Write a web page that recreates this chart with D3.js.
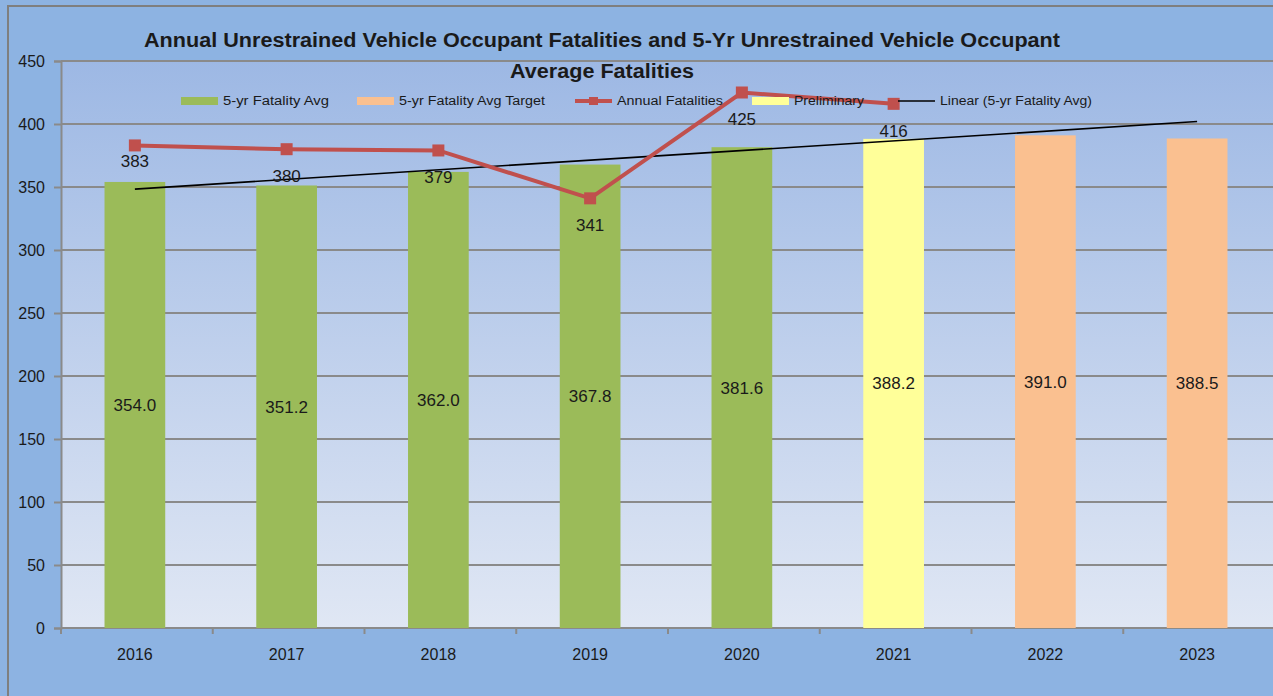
<!DOCTYPE html>
<html>
<head>
<meta charset="utf-8">
<script src="https://cdn.jsdelivr.net/npm/d3@7"></script>
<style>
  body { margin: 0; background: #8db3e2; }
  text { font-family: "Liberation Sans", "DejaVu Sans", sans-serif; fill: #1a1a1a; }
</style>
</head>
<body>
<div id="chart"></div>
<script>
// data
var years = ["2016", "2017", "2018", "2019", "2020", "2021", "2022", "2023"]
var fiveYrAvg = [354.0, 351.2, 362.0, 367.8, 381.6, null, null, null]
var preliminary = [null, null, null, null, null, 388.2, null, null]
var avgTarget = [null, null, null, null, null, null, 391.0, 388.5]
var annualFatalities = [383, 380, 379, 341, 425, 416]
var yTicks = [0, 50, 100, 150, 200, 250, 300, 350, 400, 450]

// the 5-yr avg series that excel fits the trendline to (2021 sits under the preliminary bar)
var trendBase = [354.0, 351.2, 362.0, 367.8, 381.6, 388.2]

const W = 1273, H = 696
const margin = { top: 61, right: 0, bottom: 68, left: 59 }
const width = W - margin.left - margin.right
const height = H - margin.top - margin.bottom

var svg = d3.select("#chart")
    .append("svg")
    .attr("width", W)
    .attr("height", H)

var defs = svg.append("defs")
var grad = defs.append("linearGradient")
    .attr("id", "plotbg")
    .attr("x1", 0).attr("y1", 0).attr("x2", 0).attr("y2", 1)
grad.append("stop").attr("offset", "0%").attr("stop-color", "#9db8e4")
grad.append("stop").attr("offset", "100%").attr("stop-color", "#e0e7f4")

// outer chart area + border
svg.append("rect")
    .attr("x", 0).attr("y", 0).attr("width", W).attr("height", H)
    .attr("fill", "#8db3e2")
svg.append("path")
    .attr("d", `M8,${H} V6 H${W}`)
    .attr("fill", "none")
    .attr("stroke", "#7f7f7f")
    .attr("stroke-width", 2)

var g = svg.append("g")
    .attr("transform", `translate(${margin.left},${margin.top})`)

g.append("rect")
    .attr("x", 2).attr("y", 0)
    .attr("width", width).attr("height", height)
    .attr("fill", "url(#plotbg)")

const x = d3.scaleBand()
    .domain(years)
    .range([0, width])
    .paddingInner(0.6)
    .paddingOuter(0.3)
const y = d3.scaleLinear()
    .domain([0, 450])
    .range([height, 0])

const xc = d => x(d) + x.bandwidth() / 2

// gridlines
g.append("g")
    .selectAll("line")
    .data(yTicks.filter(v => v > 0))
    .enter().append("line")
    .attr("x1", 2).attr("x2", width)
    .attr("y1", d => y(d)).attr("y2", d => y(d))
    .attr("stroke", "#8a8a8a")
    .attr("stroke-width", 2)

// y axis
var yAxis = g.append("g")
    .attr("transform", "translate(2,0)")
    .call(d3.axisLeft(y).tickValues(yTicks).tickSize(7).tickPadding(9))
yAxis.select(".domain").attr("stroke", "#8a8a8a").attr("stroke-width", 2)
yAxis.selectAll(".tick line").attr("stroke", "#8a8a8a").attr("stroke-width", 2)
yAxis.selectAll("text").style("font-size", "16px").attr("fill", "#1a1a1a")

// x axis: ticks between categories
var xAxis = g.append("g")
    .attr("transform", `translate(0,${height})`)
xAxis.append("line")
    .attr("x1", 2).attr("x2", width)
    .attr("stroke", "#8a8a8a").attr("stroke-width", 2)
var step = width / years.length
xAxis.selectAll(".tk")
    .data(d3.range(years.length + 1))
    .enter().append("line")
    .attr("x1", i => 2 + i * step).attr("x2", i => 2 + i * step)
    .attr("y1", 0).attr("y2", 6)
    .attr("stroke", "#8a8a8a").attr("stroke-width", 2)
xAxis.selectAll("text")
    .data(years)
    .enter().append("text")
    .attr("x", d => xc(d))
    .attr("y", 32)
    .attr("text-anchor", "middle")
    .style("font-size", "16px")
    .text(d => d)

// bars
function drawBars(values, color) {
    var rows = years.map((yr, i) => ({ year: yr, v: values[i] })).filter(d => d.v != null)
    g.append("g")
        .selectAll("rect")
        .data(rows)
        .enter().append("rect")
        .attr("x", d => x(d.year))
        .attr("y", d => y(d.v))
        .attr("width", x.bandwidth())
        .attr("height", d => height - y(d.v))
        .attr("fill", color)
    g.append("g")
        .selectAll("text")
        .data(rows)
        .enter().append("text")
        .attr("x", d => xc(d.year))
        .attr("y", d => (y(d.v) + height) / 2)
        .attr("dy", "0.35em")
        .attr("text-anchor", "middle")
        .style("font-size", "17px")
        .text(d => d.v.toFixed(1))
}
drawBars(fiveYrAvg, "#9bbb59")
drawBars(preliminary, "#ffff99")
drawBars(avgTarget, "#fac090")

// linear trendline over the 5-yr avg, forecast forward to 2023
var n = trendBase.length
var mx = d3.mean(d3.range(n)), my = d3.mean(trendBase)
var slope = d3.sum(trendBase, (v, i) => (i - mx) * (v - my)) / d3.sum(d3.range(n), i => (i - mx) * (i - mx))
var icpt = my - slope * mx
var last = years.length - 1
g.append("line")
    .attr("x1", xc(years[0])).attr("y1", y(icpt))
    .attr("x2", xc(years[last])).attr("y2", y(icpt + slope * last))
    .attr("stroke", "#000")
    .attr("stroke-width", 1.6)

// annual fatalities line
var annual = annualFatalities.map((v, i) => ({ year: years[i], v: v }))
const line = d3.line()
    .x(d => xc(d.year))
    .y(d => y(d.v))
g.append("path")
    .datum(annual)
    .attr("fill", "none")
    .attr("stroke", "#c0504d")
    .attr("stroke-width", 4)
    .attr("d", line)
g.append("g")
    .selectAll("rect")
    .data(annual)
    .enter().append("rect")
    .attr("x", d => xc(d.year) - 6)
    .attr("y", d => y(d.v) - 6)
    .attr("width", 12).attr("height", 12)
    .attr("fill", "#c0504d")

var labelDrop = { "2016": 16 }
g.append("g")
    .selectAll("text")
    .data(annual)
    .enter().append("text")
    .attr("x", d => xc(d.year))
    .attr("y", d => y(d.v) + (labelDrop[d.year] || 27))
    .attr("dy", "0.35em")
    .attr("text-anchor", "middle")
    .style("font-size", "17px")
    .text(d => d.v)

// title
svg.append("text")
    .attr("x", 602).attr("y", 47)
    .attr("text-anchor", "middle")
    .attr("textLength", 916)
    .attr("lengthAdjust", "spacingAndGlyphs")
    .style("font-size", "20px").style("font-weight", "bold")
    .attr("fill", "#000")
    .text("Annual  Unrestrained Vehicle Occupant  Fatalities and 5-Yr Unrestrained Vehicle Occupant")
svg.append("text")
    .attr("x", 602).attr("y", 78)
    .attr("text-anchor", "middle")
    .attr("textLength", 184)
    .attr("lengthAdjust", "spacingAndGlyphs")
    .style("font-size", "20px").style("font-weight", "bold")
    .attr("fill", "#000")
    .text("Average Fatalities")

// legend
var legend = [
    { name: "5-yr Fatality Avg", type: "bar", color: "#9bbb59", x: 181, w: 106 },
    { name: "5-yr Fatality Avg Target", type: "bar", color: "#fac090", x: 357, w: 146 },
    { name: "Annual Fatalities", type: "marker", color: "#c0504d", x: 575, w: 106 },
    { name: "Preliminary", type: "bar", color: "#ffff99", x: 752, w: 70 },
    { name: "Linear (5-yr Fatality Avg)", type: "line", color: "#000", x: 898, w: 152 }
]
var lg = svg.append("g").attr("transform", "translate(0,101)")
legend.forEach(function (d) {
    if (d.type == "bar") {
        lg.append("rect").attr("x", d.x).attr("y", -4).attr("width", 37).attr("height", 8).attr("fill", d.color)
    } else if (d.type == "marker") {
        lg.append("line").attr("x1", d.x).attr("x2", d.x + 37).attr("stroke", d.color).attr("stroke-width", 4)
        lg.append("rect").attr("x", d.x + 14).attr("y", -4).attr("width", 9).attr("height", 8).attr("fill", d.color)
    } else {
        lg.append("line").attr("x1", d.x).attr("x2", d.x + 37).attr("stroke", d.color).attr("stroke-width", 1.6)
    }
    lg.append("text")
        .attr("x", d.x + 42).attr("y", 0).attr("dy", "0.35em")
        .attr("textLength", d.w)
        .attr("lengthAdjust", "spacingAndGlyphs")
        .style("font-size", "12px")
        .text(d.name)
})
</script>
</body>
</html>
